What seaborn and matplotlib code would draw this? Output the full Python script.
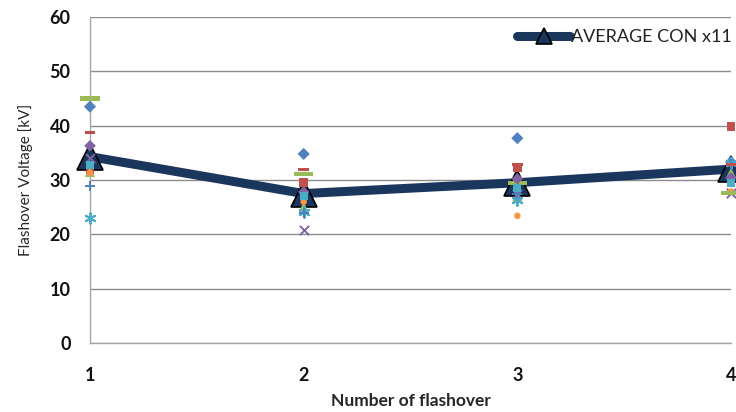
import matplotlib
matplotlib.use("Agg")
import matplotlib.pyplot as plt
import seaborn as sns
import pandas as pd

# Flashover number on the x axis
flashover = [1, 2, 3, 4]

# Individual flashover voltages [kV] for the eleven CON samples
con_01 = [43.5, 34.8, 37.7, 33.3]
con_02 = [32.0, 29.5, 32.2, 39.8]
con_03 = [31.5, 25.0, 27.0, 31.3]
con_04 = [34.0, 20.8, 27.5, 27.6]
con_05 = [23.0, 24.1, 26.3, 33.2]
con_06 = [31.3, 26.0, 23.4, 27.9]
con_07 = [28.9, 24.0, 27.5, 33.0]
con_08 = [38.7, 31.9, 32.8, 32.8]
con_09 = [45.0, 31.1, 29.5, 27.6]
con_10 = [36.3, 27.8, 30.2, 30.4]
con_11 = [32.8, 27.1, 28.5, 29.5]

# Average of the eleven samples
average_con = [34.3, 27.5, 29.5, 32.0]

y_ticks = [0, 10, 20, 30, 40, 50, 60]
x_ticks = [1, 2, 3, 4]

sns.set_theme(style="white")
plt.rcParams["font.family"] = ["Lato", "DejaVu Sans"]

fig = plt.figure(figsize=(7.36, 4.12), dpi=100)
ax = fig.add_axes([90 / 736, 69 / 412, 641 / 736, 326 / 412])

bar_long = [(-1, -0.22), (1, -0.22), (1, 0.22), (-1, 0.22)]
bar_short = [(-1, -0.3), (1, -0.3), (1, 0.3), (-1, 0.3)]

samples = [
    (con_01, "D", "#4F81BD", 38),
    (con_02, "s", "#C0504D", 40),
    (con_03, "^", "#9BBB59", 55),
    (con_04, "x", "#8064A2", 45),
    (con_05, (6, 2, 0), "#4BACC6", 60),
    (con_06, "o", "#F79646", 22),
    (con_07, "+", "#4F81BD", 60),
    (con_08, bar_short, "#C0504D", 60),
    (con_09, bar_long, "#9BBB59", 190),
    (con_10, "D", "#8064A2", 35),
    (con_11, "s", "#4BACC6", 35),
]

# Average line underneath the individual points
avg_df = pd.DataFrame({"n": flashover, "v": average_con})
sns.lineplot(data=avg_df, x="n", y="v", ax=ax, color="#1b365d", linewidth=6.5,
             marker="^", markersize=19, markerfacecolor="#1b365d",
             markeredgecolor="black", markeredgewidth=1.2,
             label="AVERAGE CON x11", zorder=3, clip_on=False)

for vals, mk, col, sz in samples:
    df = pd.DataFrame({"n": flashover, "v": vals})
    lw = 1.4 if mk in ("x", "+") or isinstance(mk, tuple) else 0
    sns.scatterplot(data=df, x="n", y="v", ax=ax, marker=mk, color=col, s=sz,
                    linewidth=lw, edgecolor=col if lw else "none",
                    zorder=4, clip_on=False, legend=False)

ax.set_xlim(1, 4)
ax.set_ylim(0, 60)
ax.set_yticks(y_ticks)
ax.set_xticks(x_ticks)
ax.yaxis.grid(True, color="#8c8c8c", linewidth=1)
ax.xaxis.grid(False)
for side in ("top", "right"):
    ax.spines[side].set_visible(False)
for side in ("left", "bottom"):
    ax.spines[side].set_color("#a6a6a6")
    ax.spines[side].set_linewidth(1)

ax.tick_params(axis="y", length=0, pad=14, labelsize=13)
ax.tick_params(axis="x", length=0, pad=17, labelsize=13)
for lab in ax.get_xticklabels() + ax.get_yticklabels():
    lab.set_fontweight("bold")
    lab.set_color("#111111")

ax.set_xlabel("Number of flashover", fontsize=12.5, fontweight="bold", labelpad=7)
ax.set_ylabel("Flashover Voltage [kV]", fontsize=11, labelpad=12)

leg = ax.legend(loc="upper right", bbox_to_anchor=(1.012, 0.985), frameon=False,
                fontsize=13, handlelength=2.9, handletextpad=0.05, borderaxespad=0,
                markerscale=0.6)
for t in leg.get_texts():
    t.set_color("#222222")

fig.savefig("out.png", dpi=100)
